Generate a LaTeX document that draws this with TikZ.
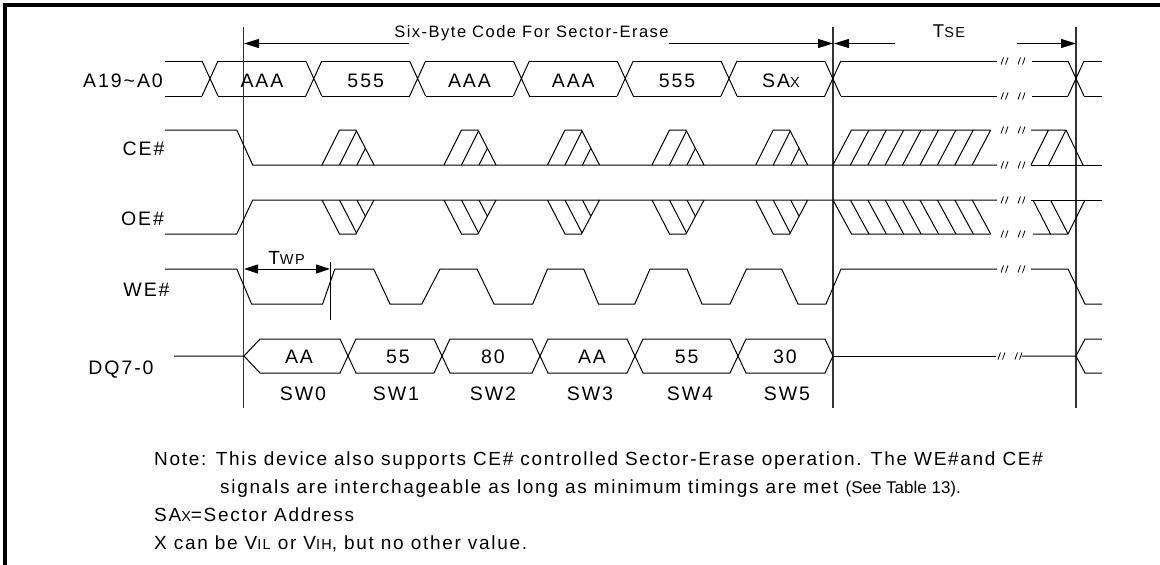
\documentclass[tikz,border=0pt]{standalone}
\usepackage{fontspec}
\setmainfont{Liberation Sans}
\newfontfamily\lblfont[LetterSpace=10]{Liberation Sans}
\newfontfamily\notefont[LetterSpace=9]{Liberation Sans}
\newfontfamily\hdrfont[LetterSpace=9]{Liberation Sans}
\usetikzlibrary{arrows.meta}
\newcommand\smc[1]{{\fontsize{14.5}{16}\selectfont #1}}
\newcommand\xing[3]{\draw[sig] ({#1-8},#2) -- ({#1+8},#3) ({#1-8},#3) -- ({#1+8},#2);}
\newcommand\brkmark[2][1001]{\draw[brk] (#1,{#2+3.5}) -- ({#1+2.5},{#2-3.5}) ({#1+4.5},{#2+3.5}) -- ({#1+7},{#2-3.5}) ({#1+17},{#2+3.5}) -- ({#1+19.5},{#2-3.5}) ({#1+21.5},{#2+3.5}) -- ({#1+24},{#2-3.5});}
\newcommand\cebump[1]{%
  \begin{scope}
    \clip (#1,165) -- ({#1+17.5},130) -- ({#1+34},130) -- ({#1+52},165) -- cycle;
    \draw[sig] ({#1+17.5},165) -- ({#1+35},130) ({#1+35},165) -- ({#1+52.5},130);
  \end{scope}
  \draw[sig] (#1,165) -- ({#1+17.5},130) -- ({#1+34},130) -- ({#1+52},165);}
\newcommand\oebump[1]{%
  \begin{scope}
    \clip (#1,200) -- ({#1+17.5},234) -- ({#1+34},234) -- ({#1+52},200) -- cycle;
    \draw[sig] ({#1+17.5},200) -- ({#1+35},234) ({#1+35},200) -- ({#1+52.5},234);
  \end{scope}
  \draw[sig] (#1,200) -- ({#1+17.5},234) -- ({#1+34},234) -- ({#1+52},200);}
\begin{document}
\begin{tikzpicture}[x=1pt,y=-1pt,
  sig/.style={line width=1pt,black},
  brk/.style={line width=0.8pt,black},
  vline/.style={line width=1.1pt,black!80},
  arr/.style={line width=1pt,-{Triangle[length=15pt,width=9pt]}},
  arrb/.style={line width=1pt,{Triangle[length=14pt,width=9pt]}-{Triangle[length=14pt,width=9pt]}},
  lbl/.style={inner sep=0pt,font=\lblfont\fontsize{19.5}{22}\selectfont},
  hdr/.style={inner sep=0pt,font=\hdrfont\fontsize{16.5}{19}\selectfont},
  note/.style={inner sep=0pt,font=\notefont\fontsize{19}{22}\selectfont}]
\useasboundingbox (0,0) rectangle (1160,565);
% frame
\draw[line width=3.5pt] (5,565) -- (5,5) -- (1160,5);
% vertical reference lines
\draw[vline] (243.5,27) -- (243.5,408);
\draw[vline] (833,27) -- (833,408);
\draw[vline] (1076,27) -- (1076,408);
% header
\node[hdr,anchor=base] (hdrtxt) at (531.5,37.5) {Six-Byte Code For Sector-Erase};
\node[hdr,anchor=base,font=\lblfont\fontsize{18.5}{20}\selectfont] (tse) at (949,37.5) {T\smc{SE}};
\coordinate (h1) at (409,43.5); \coordinate (h2) at (669,43.5);
\coordinate (h3) at (894.5,43.5); \coordinate (h4) at (1016.5,43.5);
\coordinate (v1) at (244,43.5); \coordinate (v2) at (833,43.5);
\coordinate (v2b) at (834,43.5); \coordinate (v3) at (1076,43.5);
\draw[arr] (h1) -- (v1);
\draw[arr] (h2) -- (v2);
\draw[arr] (h3) -- (v2b);
\draw[arr] (h4) -- (v3);
% labels
\node[lbl] (lA) at (123,80.7) {A19\textasciitilde A0};
\node[lbl] (lCE) at (143.5,148.3) {CE\#};
\node[lbl] (lOE) at (142.5,218.3) {OE\#};
\node[lbl] (lWE) at (146.5,290) {WE\#};
\node[lbl] (lDQ) at (121,370) {DQ7-0};
% ---------- A19~A0 ----------
\draw[sig] (165,61) -- (202,61) (165,96) -- (202,96);
\foreach \c in {210,313.8,417.6,521.4,625.2,729,832.8} {\xing{\c}{61}{96}}
\foreach \a/\b in {210/313.8,313.8/417.6,417.6/521.4,521.4/625.2,625.2/729,729/832.8}
  {\draw[sig] ({\a+8},61) -- ({\b-8},61) ({\a+8},96) -- ({\b-8},96);}
\draw[sig] (840.8,61) -- (997,61) (840.8,96) -- (997,96);
\brkmark{61} \brkmark{96}
\draw[sig] (1032,61) -- (1068,61) (1032,96) -- (1068,96);
\xing{1076}{61}{96}
\draw[sig] (1084,61) -- (1102,61) (1084,96) -- (1102,96);
\foreach \x/\t in {262/AAA,365.7/555,469.5/AAA,573.3/AAA,677/555}
  {\node[lbl,anchor=base] at (\x,87.5) {\t};}
\node[lbl,anchor=base] (sax) at (780.9,87.5) {SA\smc{X}};
% ---------- CE# ----------
\draw[sig] (165,130) -- (236.8,130) -- (252.7,165) -- (997,165);
\draw[sig] (1031,165) -- (1102,165);
\foreach \L in {322,444,547.5,652,755.7} {\cebump{\L}}
\draw[sig] (833,165) -- (851.5,130) -- (990.7,130);
\foreach \k in {1,...,8} {\draw[sig] ({833+17.4*\k},165) -- ({851.5+17.4*\k},130);}
\brkmark{130} \brkmark{165}
\draw[sig] (1031,165) -- (1048.5,130) (1048.5,165) -- (1066,130) (1031,130) -- (1066,130) -- (1083,165);
% ---------- OE# ----------
\draw[sig] (165,234) -- (236.8,234) -- (252.7,200) -- (997,200);
\draw[sig] (1031,200) -- (1102,200);
\foreach \L in {322,444,547.5,652,755.7} {\oebump{\L}}
\draw[sig] (833,200) -- (851.5,234) -- (990.7,234);
\foreach \k in {1,...,8} {\draw[sig] ({833+17.4*\k},200) -- ({851.5+17.4*\k},234);}
\brkmark{200} \brkmark{234}
\draw[sig] (1033,200) -- (1050.5,234) (1050.5,200) -- (1068,234) (1033,234) -- (1068,234) -- (1085,200);
% ---------- WE# ----------
\draw[sig] (165,269) -- (236.8,269) -- (251.6,304) -- (322.6,304) -- (334.8,269) -- (373.7,269)
  -- (390,304) -- (421.8,304) -- (440,269) -- (477,269) -- (494,304) -- (532.7,304) -- (547.5,269)
  -- (583.7,269) -- (598.5,304) -- (634.8,304) -- (650,269) -- (687,269) -- (702,304) -- (730,304)
  -- (746.5,269) -- (781.6,269) -- (798,304) -- (826,304) -- (841,269) -- (997,269);
\brkmark{269}
\draw[sig] (1031,269) -- (1068,269) -- (1085,304) -- (1102,304);
\coordinate (twpA) at (244,269); \coordinate (twpB) at (330,269);
\draw[arrb] (twpA) -- (twpB);
\draw[sig] (330,262) -- (330,320);
\node[lbl,anchor=base,font=\lblfont\fontsize{19}{20}\selectfont] (twp) at (286.5,264) {T\smc{WP}};
% ---------- DQ7-0 ----------
\draw[sig] (174,356) -- (244,356) -- (260,339) -- (340,339) -- (356,373) -- (434,373) -- (450,339)
  -- (532,339) -- (548,373) -- (627,373) -- (643,339) -- (730,339) -- (746,373) -- (825,373) -- (833,356);
\draw[sig] (244,356) -- (260,373) -- (340,373) -- (356,339) -- (434,339) -- (450,373)
  -- (532,373) -- (548,339) -- (627,339) -- (643,373) -- (730,373) -- (746,339) -- (825,339) -- (833,356);
\draw[sig] (833,356) -- (996,356);
\brkmark[998]{356}
\draw[sig] (1022,356) -- (1076,356) -- (1085,339) -- (1102,339) (1076,356) -- (1085,373) -- (1102,373);
\foreach \x/\t in {299/AA,398/55,493/80,592/AA,686.6/55,785/30}
  {\node[lbl,anchor=base] at (\x,363.5) {\t};}
\foreach \x/\t in {303/SW0,396/SW1,493/SW2,590/SW3,690/SW4,787/SW5}
  {\node[lbl,anchor=base] at (\x,400) {\t};}
% ---------- notes ----------
\node[note,anchor=base west] (n1) at (154,465) {Note: This device also supports CE\# controlled Sector-Erase operation. The WE\#and CE\#};
\node[note,anchor=base west] (n2) at (220,493) {signals are interchageable as long as minimum timings are met {\normalfont\fontsize{17}{20}\selectfont(See Table 13).}};
\node[note,anchor=base west] (n3) at (154,521) {SA\smc{X}=Sector Address};
\node[note,anchor=base west] (n4) at (154,549) {X can be V\smc{IL} or V\smc{IH}, but no other value.};
\end{tikzpicture}
\end{document}
